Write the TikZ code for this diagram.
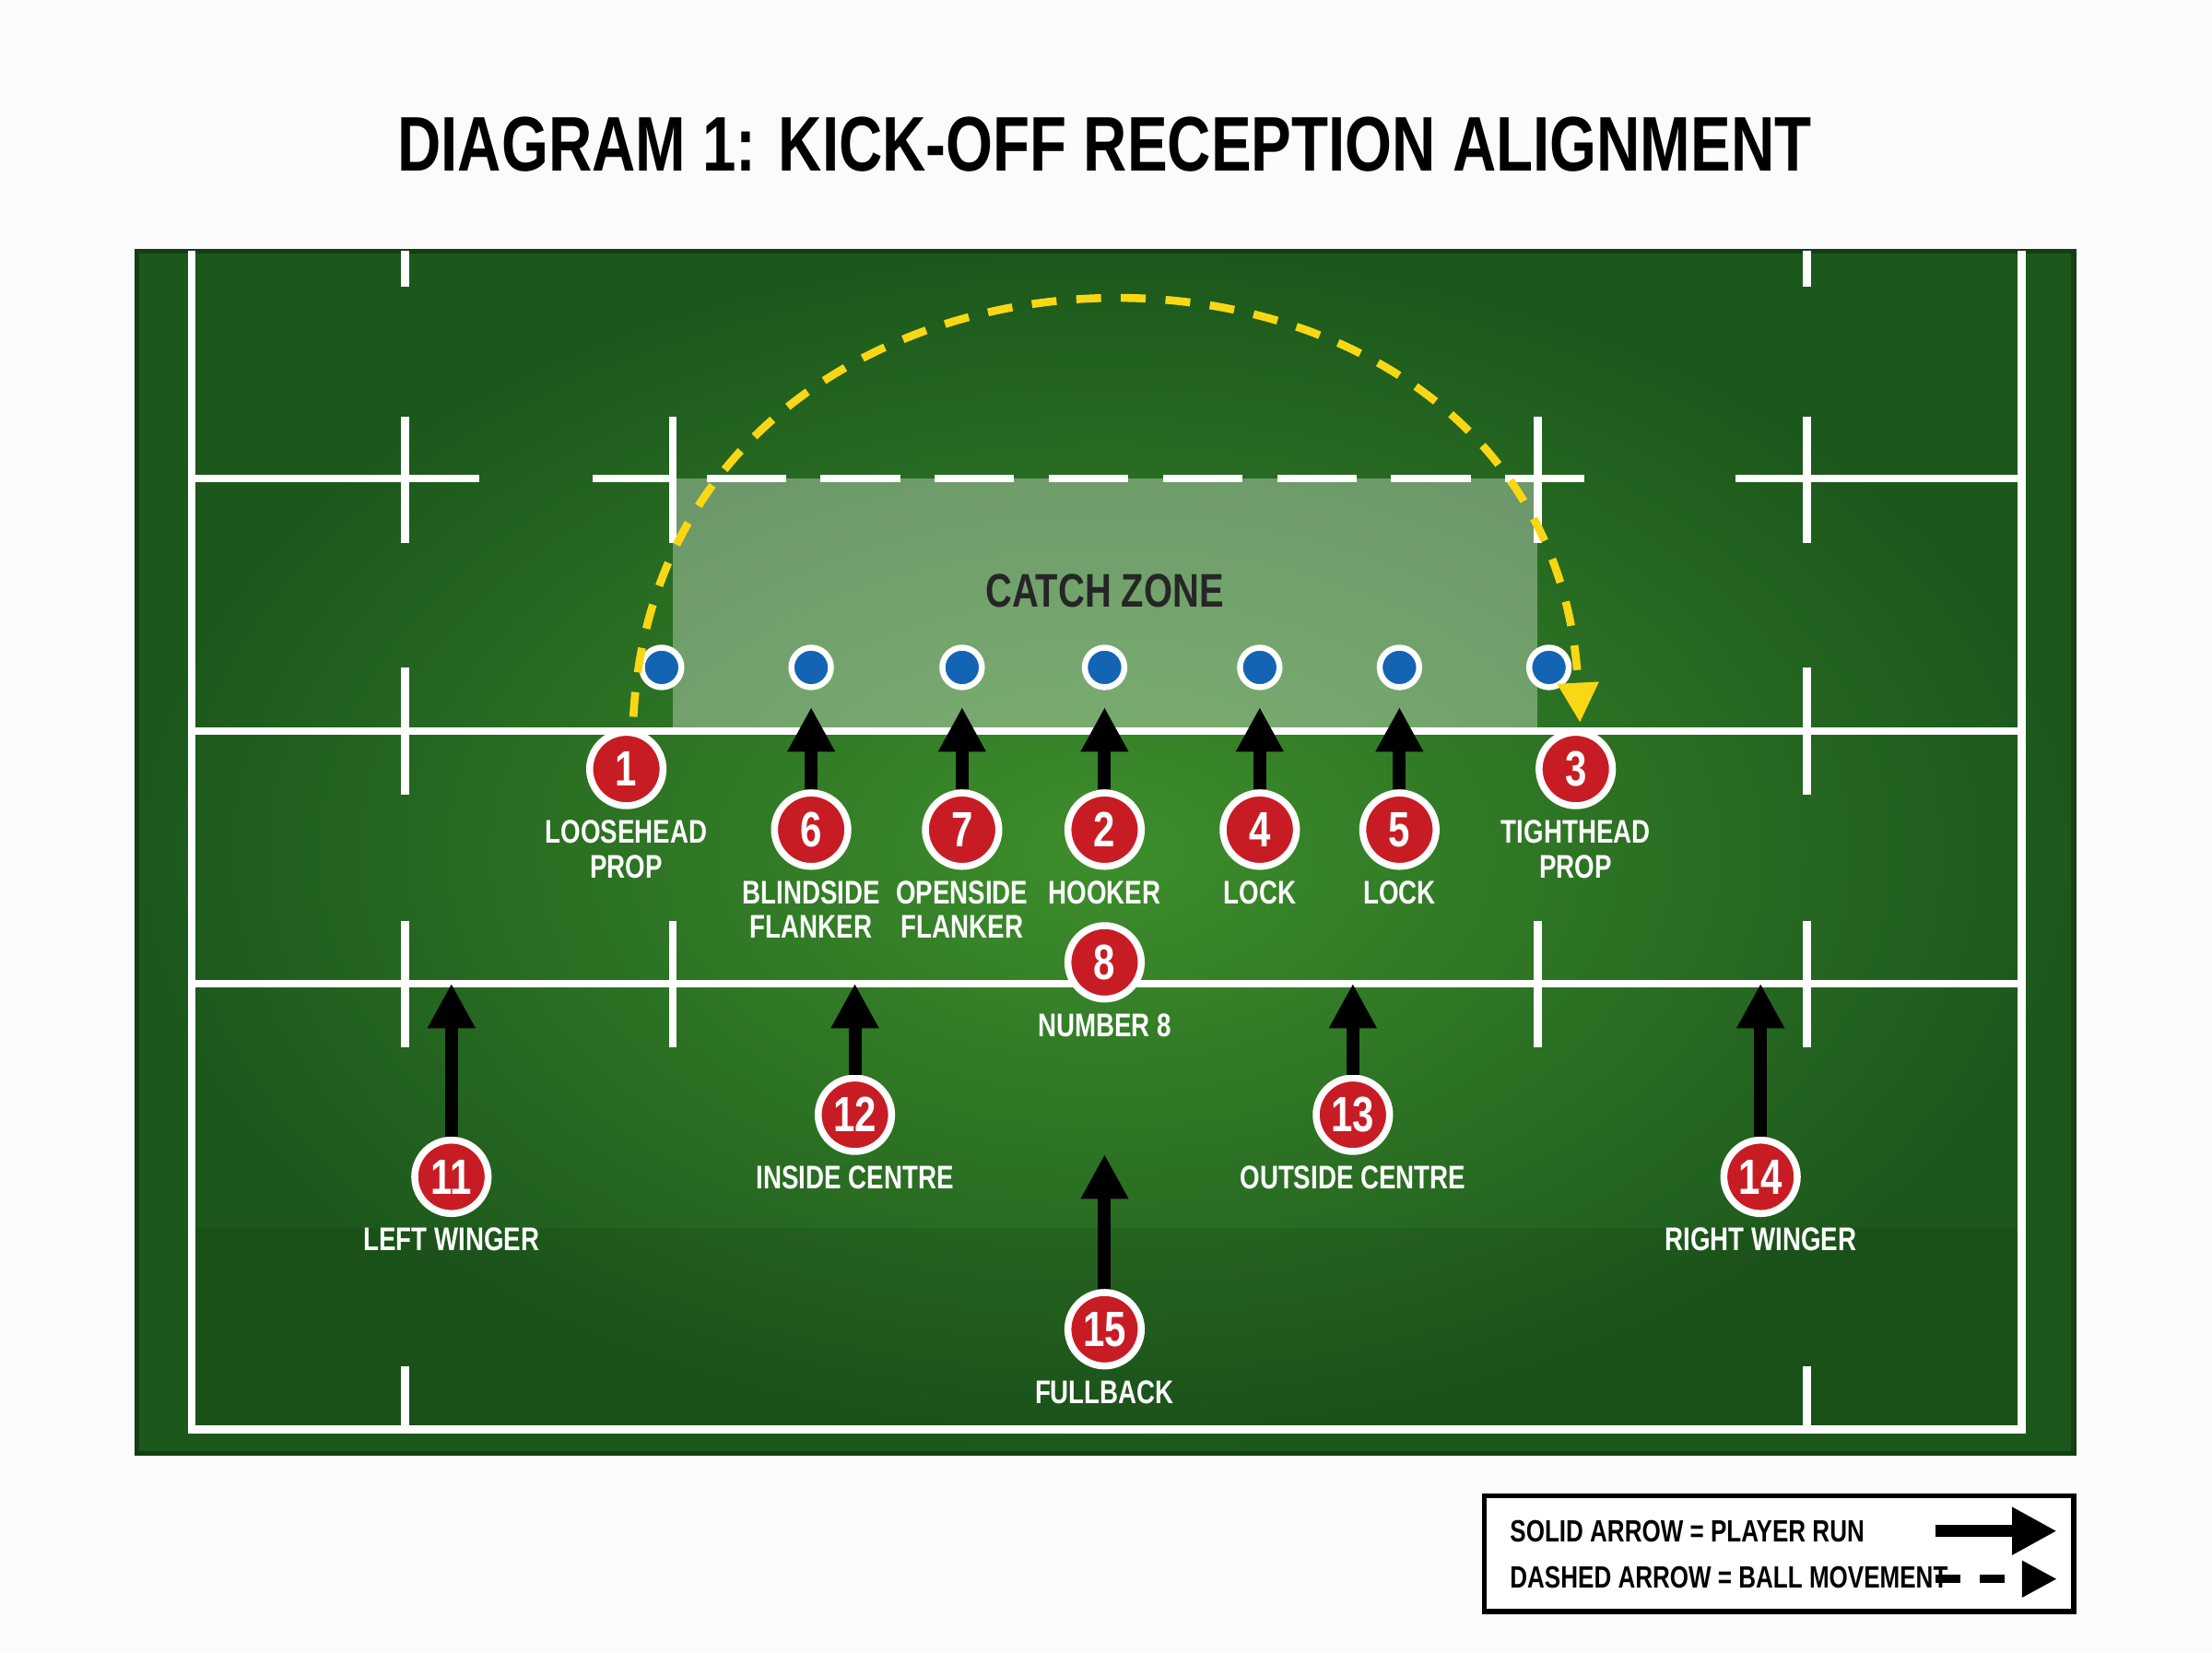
\documentclass[tikz,border=0pt]{standalone}
\usepackage{fontspec}
\setmainfont{Liberation Sans}[FakeStretch=0.78]
\usetikzlibrary{arrows.meta}
\definecolor{fieldin}{RGB}{62,142,44}
\definecolor{fieldout}{RGB}{28,88,28}
\definecolor{pred}{RGB}{200,28,36}
\definecolor{pblue}{RGB}{20,100,180}
\definecolor{ballyel}{RGB}{250,215,20}
\tikzset{
 px/.style={x=0.01cm,y=-0.01cm},
 pline/.style={white,line width=1.6pt},
 player/.style={circle,fill=pred,draw=white,line width=1.4pt,minimum size=0.52cm,inner sep=0pt,text=white,font=\bfseries\fontsize{10}{10}\selectfont},
 opp/.style={circle,fill=pblue,draw=white,line width=1.2pt,minimum size=0.28cm,inner sep=0pt},
 lbl/.style={text=white,font=\bfseries\fontsize{6.6}{7}\selectfont,align=center,inner sep=1pt},
 run/.style={-{Triangle[length=9pt,width=9pt]},line width=2.6pt,black},
}
\begin{document}
\begin{tikzpicture}[px]
\useasboundingbox (0,0) rectangle (1568,1171);
\fill[white!97!gray] (0,0) rectangle (1568,1171);
\node (title) at (783,102) {\bfseries\fontsize{15.6}{16}\selectfont DIAGRAM 1: KICK-OFF RECEPTION ALIGNMENT};
% field
\shade[inner color=fieldin,outer color=fieldout] (97,178) rectangle (1470,1030);
\draw[fieldout!70!black,line width=1pt] (97,178) rectangle (1470,1030);
\fill[black,opacity=0.08] (136,870) rectangle (1433,1013);
% catch zone
\fill[white,opacity=0.33] (477,339) rectangle (1090,518);
\node[font=\bfseries\fontsize{9.5}{10}\selectfont,text=black!85] (cz) at (783,419) {CATCH ZONE};
% lines
\draw[pline] (136,178) -- (136,1013) -- (1433,1013) -- (1433,178);
\draw[pline] (136,339) -- (340,339);
\draw[pline,dash pattern=on 16pt off 7pt] (420,339) -- (1145,339);
\draw[pline] (1230,339) -- (1433,339);
\draw[pline] (136,518) -- (1433,518);
\draw[pline] (136,697) -- (1433,697);
\foreach \x in {287,1281}{
 \draw[pline] (\x,178) -- (\x,203);
 \draw[pline] (\x,295) -- (\x,385);
 \draw[pline] (\x,473) -- (\x,563);
 \draw[pline] (\x,653) -- (\x,742);
 \draw[pline] (\x,968) -- (\x,1013);}
\foreach \x in {477,1090}{
 \draw[pline] (\x,295) -- (\x,385);
 \draw[pline] (\x,653) -- (\x,742);}
% opponents
\foreach \n/\x in {a/469,b/575,c/682,d/783,e/893,f/992,g/1098}
 \node[opp] (o\n) at (\x,473) {};
% players
\node[player] (p1) at (444,545) {1};
\node[player] (p3) at (1117,545) {3};
\node[player] (p6) at (575,588) {6};
\node[player] (p7) at (682,588) {7};
\node[player] (p2) at (783,588) {2};
\node[player] (p4) at (893,588) {4};
\node[player] (p5) at (992,588) {5};
\node[player] (p8) at (783,682) {8};
\node[player] (p12) at (606,790) {12};
\node[player] (p13) at (959,790) {13};
\node[player] (p11) at (320,834) {11};
\node[player] (p14) at (1248,834) {14};
\node[player] (p15) at (783,942) {15};
% labels
\node[lbl,anchor=north] at (444,577) {LOOSEHEAD\\PROP};
\node[lbl,anchor=north] at (1117,577) {TIGHTHEAD\\PROP};
\node[lbl,anchor=north] at (575,620) {BLINDSIDE\\FLANKER};
\node[lbl,anchor=north] at (682,620) {OPENSIDE\\FLANKER};
\node[lbl,anchor=north] at (783,620) {HOOKER};
\node[lbl,anchor=north] at (893,620) {LOCK};
\node[lbl,anchor=north] at (992,620) {LOCK};
\node[lbl,anchor=north] at (783,714) {NUMBER 8};
\node[lbl,anchor=north] at (606,822) {INSIDE CENTRE};
\node[lbl,anchor=north] at (959,822) {OUTSIDE CENTRE};
\node[lbl,anchor=north] at (320,866) {LEFT WINGER};
\node[lbl,anchor=north] at (1248,866) {RIGHT WINGER};
\node[lbl,anchor=north] at (783,974) {FULLBACK};
% runs
\coordinate (t12) at (606,697); \coordinate (t13) at (959,697);
\coordinate (t11) at (320,697); \coordinate (t14) at (1248,697);
\coordinate (t15) at (783,818);
\foreach \p/\o in {p6/ob,p7/oc,p2/od,p4/oe,p5/of}
 \draw[run] (\p.north) -- ([yshift=-0.12cm]\o.south);
\foreach \p in {12,13,11,14,15}
 \draw[run] (p\p.north) -- (t\p);
% ball
\coordinate (bs) at (449,508); \coordinate (be) at (1120,512);
\draw[ballyel,line width=1.6pt,dash pattern=on 5pt off 4pt,-{Triangle[length=8pt,width=8pt]}]
 (bs) .. controls (470,116) and (1100,116) .. (be);
% legend
\draw[black,line width=1pt,fill=white] (1052,1060) rectangle (1470,1142);
\node[anchor=west,font=\bfseries\fontsize{6.2}{7}\selectfont] (l1) at (1058,1085) {SOLID ARROW = PLAYER RUN};
\node[anchor=west,font=\bfseries\fontsize{6.2}{7}\selectfont] (l2) at (1058,1118) {DASHED ARROW = BALL MOVEMENT};
\coordinate (a1) at (1372,1085); \coordinate (a2) at (1458,1085);
\coordinate (b1) at (1372,1119); \coordinate (b2) at (1458,1119);
\draw[run,line width=2.4pt] (a1) -- (a2);
\draw[black,line width=1.6pt,dash pattern=on 5pt off 4pt,-{Triangle[length=7pt,width=7pt]}] (b1) -- (b2);
\end{tikzpicture}
\end{document}
